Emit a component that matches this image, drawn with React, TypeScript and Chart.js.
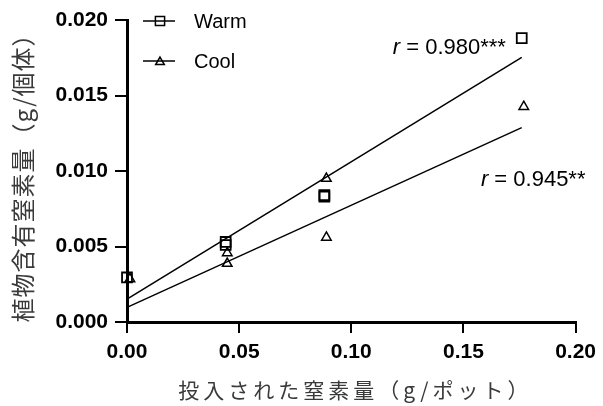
import React, { useEffect, useRef } from 'react';
import { Chart, registerables } from 'chart.js';

Chart.register(...registerables);

// ---- data ----
const seriesNames = ['Warm', 'Cool'];
const warmX = [0, 0.044, 0.044, 0.088, 0.088, 0.176];
const warmY = [0.00295, 0.0053, 0.0051, 0.0084, 0.0083, 0.0188];
const coolX = [0.0013, 0.0447, 0.0447, 0.0889, 0.0889, 0.1769];
const coolY = [0.00285, 0.00457, 0.00387, 0.0095, 0.0056, 0.01426];
const fitX = [0, 0.176];
const warmFitY = [0.00152, 0.01753];
const coolFitY = [0.00097, 0.01287];
const xRange = [0, 0.2];
const yRange = [0, 0.02];
const xStep = 0.05;
const yStep = 0.005;
const xTitle = '投入された窒素量（g/ポット）';
const yTitle = '植物含有窒素量（g/個体）';
const rTexts = [' = 0.980***', ' = 0.945**'];
const rAnchorX = [0.1185, 0.1578];
const rAnchorY = [0.01815, 0.0094];

const LATIN = '"Liberation Sans", Arial, sans-serif';
const CJK = '"Noto Sans CJK JP", sans-serif';

const pts = (xs: number[], ys: number[]) => xs.map((x, i) => ({ x, y: ys[i] }));

function drawMarker(ctx: CanvasRenderingContext2D, kind: string, x: number, y: number, r: number, lw: number) {
  ctx.save();
  ctx.strokeStyle = '#000';
  ctx.lineWidth = lw;
  ctx.beginPath();
  if (kind === 'rect') {
    const s = Math.SQRT1_2 * r;
    ctx.rect(x - s, y - s, 2 * s, 2 * s);
  } else {
    let rad = 0;
    ctx.moveTo(x + Math.sin(rad) * r, y - Math.cos(rad) * r);
    rad += (2 * Math.PI) / 3;
    ctx.lineTo(x + Math.sin(rad) * r, y - Math.cos(rad) * r);
    rad += (2 * Math.PI) / 3;
    ctx.lineTo(x + Math.sin(rad) * r, y - Math.cos(rad) * r);
    ctx.closePath();
  }
  ctx.stroke();
  ctx.restore();
}

const decorPlugin = {
  id: 'decor',
  afterDraw(chart: any) {
    const ctx: CanvasRenderingContext2D = chart.ctx;
    const area = chart.chartArea;
    const xs = chart.scales.x;
    const ys = chart.scales.y;

    // legend (inside plot, top-left)
    const rows = [
      { name: seriesNames[0], kind: 'rect', y: area.top + 1, r: 6.5, lw: 1.5 },
      { name: seriesNames[1], kind: 'tri', y: area.top + 41, r: 5, lw: 1.5 },
    ];
    rows.forEach((row) => {
      ctx.save();
      ctx.strokeStyle = '#000';
      ctx.lineWidth = 1.5;
      ctx.beginPath();
      ctx.moveTo(area.left + 16, row.y);
      ctx.lineTo(area.left + 48, row.y);
      ctx.stroke();
      ctx.restore();
      drawMarker(ctx, row.kind, area.left + 33, row.y + (row.kind === 'tri' ? 1 : 0), row.r, row.lw);
      ctx.save();
      ctx.fillStyle = '#000';
      ctx.font = `20px ${LATIN}`;
      ctx.textAlign = 'left';
      ctx.textBaseline = 'middle';
      ctx.fillText(row.name, area.left + 67, row.y + 1);
      ctx.restore();
    });

    // correlation labels
    rTexts.forEach((t, i) => {
      const px = xs.getPixelForValue(rAnchorX[i]);
      const py = ys.getPixelForValue(rAnchorY[i]);
      ctx.save();
      ctx.fillStyle = '#000';
      ctx.textAlign = 'left';
      ctx.textBaseline = 'middle';
      ctx.font = `italic 22px ${LATIN}`;
      ctx.fillText('r', px, py);
      const w = ctx.measureText('r').width;
      ctx.font = `22px ${LATIN}`;
      ctx.fillText(t, px + w, py);
      ctx.restore();
    });

    // axis titles
    ctx.save();
    ctx.fillStyle = '#3a3a3a';
    ctx.textAlign = 'center';
    ctx.textBaseline = 'middle';
    ctx.font = `21px ${CJK}`;
    (ctx as any).letterSpacing = '4px';
    ctx.fillText(xTitle, (area.left + area.right) / 2 + 4, 390);
    ctx.restore();

    ctx.save();
    ctx.fillStyle = '#3a3a3a';
    ctx.textAlign = 'center';
    ctx.textBaseline = 'middle';
    ctx.font = `24px ${CJK}`;
    (ctx as any).letterSpacing = '1px';
    ctx.translate(23, (area.top + area.bottom) / 2 + 1);
    ctx.rotate(-Math.PI / 2);
    ctx.fillText(yTitle, 0, 0);
    ctx.restore();
  },
};

export default function App() {
  const ref = useRef<HTMLCanvasElement | null>(null);

  useEffect(() => {
    document.body.style.margin = '0';
    const canvas = ref.current;
    if (!canvas) return;
    const chart = new Chart(canvas, {
      type: 'scatter',
      data: {
        datasets: [
          {
            label: seriesNames[0],
            data: pts(warmX, warmY),
            pointStyle: 'rect',
            pointRadius: 7,
            pointBorderWidth: 1.8,
            borderColor: '#000',
            backgroundColor: 'rgba(0,0,0,0)',
            showLine: false,
            clip: false,
          },
          {
            label: seriesNames[1],
            data: pts(coolX, coolY),
            pointStyle: 'triangle',
            pointRadius: 5.5,
            pointBorderWidth: 1.5,
            borderColor: '#000',
            backgroundColor: 'rgba(0,0,0,0)',
            showLine: false,
            clip: false,
          },
          {
            label: seriesNames[0] + ' fit',
            data: pts(fitX, warmFitY),
            showLine: true,
            pointRadius: 0,
            borderColor: '#000',
            borderWidth: 1.5,
            clip: false,
          },
          {
            label: seriesNames[1] + ' fit',
            data: pts(fitX, coolFitY),
            showLine: true,
            pointRadius: 0,
            borderColor: '#000',
            borderWidth: 1.5,
            clip: false,
          },
        ] as any,
      },
      options: {
        responsive: false,
        animation: false,
        events: [],
        layout: { padding: { top: 20, right: 23, bottom: 0, left: 0 } },
        plugins: { legend: { display: false }, tooltip: { enabled: false } },
        scales: {
          x: {
            type: 'linear',
            min: xRange[0],
            max: xRange[1],
            afterFit: (s: any) => { s.height = 84; },
            ticks: {
              stepSize: xStep,
              color: '#000',
              padding: 7,
              font: { family: LATIN, size: 21, weight: 'bold' },
              callback: (v: any) => Number(v).toFixed(2),
            },
            grid: { drawOnChartArea: false, drawTicks: true, tickLength: 11, lineWidth: 2, color: '#000' },
            border: { display: true, color: '#000', width: 3 },
          },
          y: {
            type: 'linear',
            min: yRange[0],
            max: yRange[1],
            afterFit: (s: any) => { s.width = 127; },
            ticks: {
              stepSize: yStep,
              color: '#000',
              padding: 7,
              font: { family: LATIN, size: 21, weight: 'bold' },
              callback: (v: any) => Number(v).toFixed(3),
            },
            grid: { drawOnChartArea: false, drawTicks: true, tickLength: 12, lineWidth: 2, color: '#000' },
            border: { display: true, color: '#000', width: 3 },
          },
        },
      } as any,
      plugins: [decorPlugin],
    });
    return () => chart.destroy();
  }, []);

  return (
    <div style={{ position: 'fixed', left: 0, top: 0, width: 603, height: 406, background: '#fff' }}>
      <canvas ref={ref} width={603} height={406} />
    </div>
  );
}
